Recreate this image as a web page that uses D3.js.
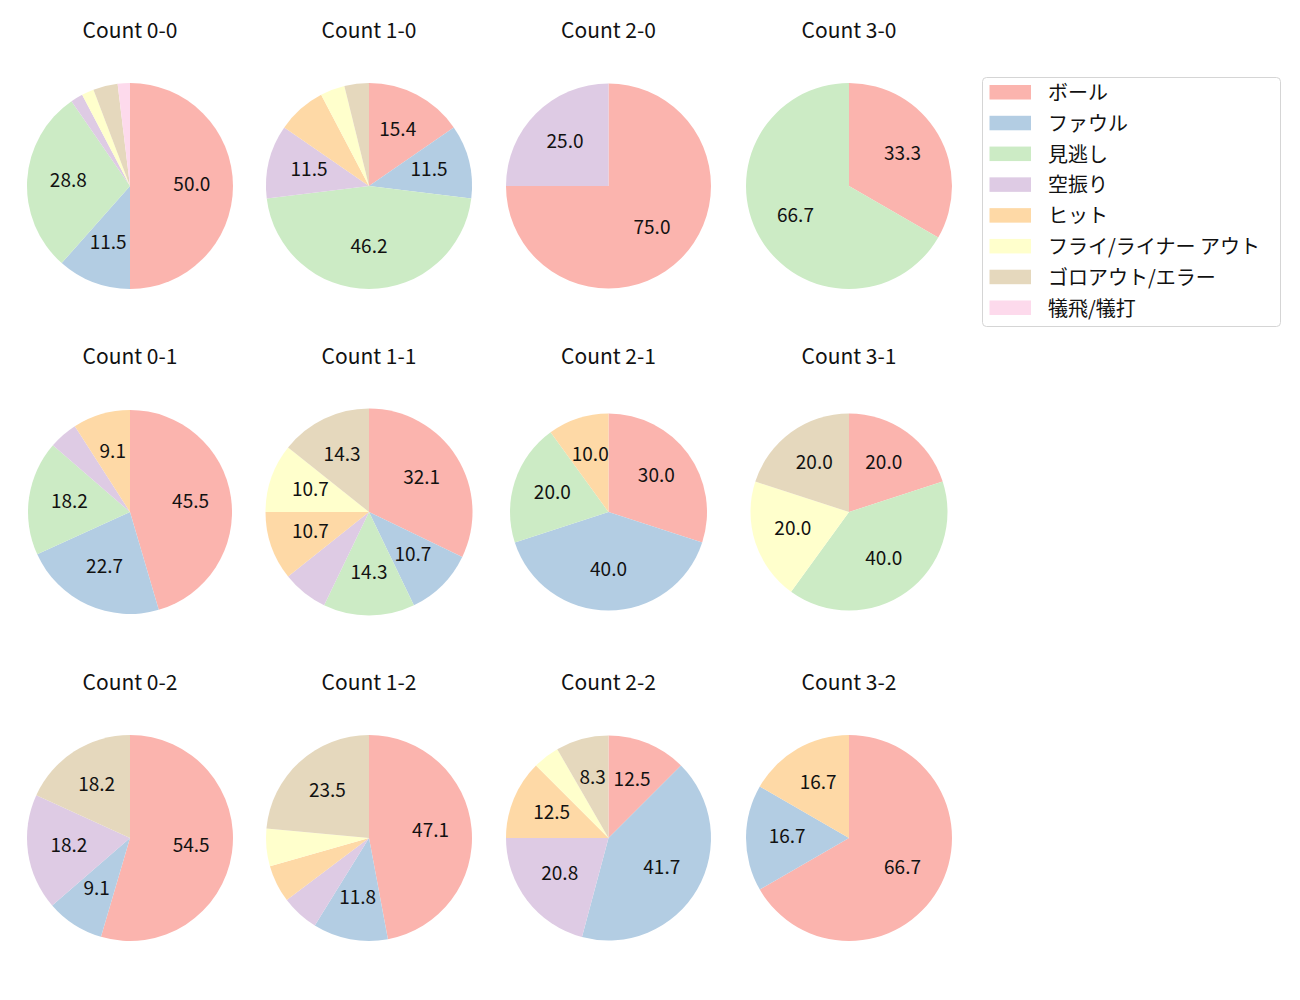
<!DOCTYPE html>
<html>
<head>
<meta charset="utf-8">
<script src="https://cdn.jsdelivr.net/npm/d3@7"></script>
<style>
  html, body { margin: 0; padding: 0; background: #fff; }
  svg { display: block; font-family: "Noto Sans CJK JP", "Noto Sans", sans-serif; }
</style>
</head>
<body>
<svg id="chart" width="1300" height="1000"></svg>
<script>
// ---- data ----
const categories = ["ボール", "ファウル", "見逃し", "空振り", "ヒット", "フライ/ライナー アウト", "ゴロアウト/エラー", "犠飛/犠打"];
const colors = ["#fbb4ae", "#b3cde3", "#ccebc5", "#decbe4", "#fed9a6", "#ffffcc", "#e5d8bd", "#fddaec"];
const titles = ["Count 0-0", "Count 1-0", "Count 2-0", "Count 3-0",
                "Count 0-1", "Count 1-1", "Count 2-1", "Count 3-1",
                "Count 0-2", "Count 1-2", "Count 2-2", "Count 3-2"];
// counts per category (order as categories)
const count00 = [26, 6, 15, 1, 0, 1, 2, 1];
const count10 = [4, 3, 12, 3, 2, 1, 1, 0];
const count20 = [3, 0, 0, 1, 0, 0, 0, 0];
const count30 = [1, 0, 2, 0, 0, 0, 0, 0];
const count01 = [10, 5, 4, 1, 2, 0, 0, 0];
const count11 = [9, 3, 4, 2, 3, 3, 4, 0];
const count21 = [3, 4, 2, 0, 1, 0, 0, 0];
const count31 = [1, 0, 2, 0, 0, 1, 1, 0];
const count02 = [6, 1, 0, 2, 0, 0, 2, 0];
const count12 = [8, 2, 0, 1, 1, 1, 4, 0];
const count22 = [3, 10, 0, 5, 3, 1, 2, 0];
const count32 = [4, 1, 0, 0, 1, 0, 0, 0];
const seriesValues = [count00, count10, count20, count30,
                      count01, count11, count21, count31,
                      count02, count12, count22, count32];

// ---- layout ----
const colX = [130, 369, 608.5, 849];
const rowY = [186, 512, 838];
const titleBase = [37.5, 364, 690];
const radii = [103, 103, 102.5, 103,
               102, 103.5, 98.5, 98.5,
               103, 103, 102.5, 103];
const labelMin = 8; // percent below which no label is drawn

const svg = d3.select("#chart");
const pie = d3.pie().sort(null).value(d => d.v).startAngle(0).endAngle(2 * Math.PI);

seriesValues.forEach((vals, i) => {
  const col = i % 4, row = Math.floor(i / 4);
  const cx = colX[col], cy = rowY[row], r = radii[i];
  const total = d3.sum(vals);
  const data = vals.map((v, k) => ({ v, k }));
  const arcs = pie(data);
  const arc = d3.arc().innerRadius(0).outerRadius(r);
  const labelArc = d3.arc().innerRadius(r * 0.6).outerRadius(r * 0.6);

  const g = svg.append("g").attr("transform", `translate(${cx},${cy})`);
  g.selectAll("path").data(arcs.filter(a => a.data.v > 0)).join("path")
    .attr("d", arc)
    .attr("fill", a => colors[a.data.k]);

  g.selectAll("text.pct").data(arcs.filter(a => a.data.v / total * 100 > labelMin)).join("text")
    .attr("class", "pct")
    .attr("transform", a => {
      const [x, y] = labelArc.centroid(a);
      return `translate(${x},${y + 5})`;
    })
    .attr("text-anchor", "middle")
    .attr("font-size", 19)
    .attr("fill", "#111")
    .text(a => (a.data.v / total * 100).toFixed(1));

  svg.append("text")
    .attr("x", cx).attr("y", titleBase[row])
    .attr("text-anchor", "middle")
    .attr("font-size", 21)
    .attr("fill", "#111")
    .text(titles[i]);
});

// ---- legend ----
const lg = svg.append("g");
lg.append("rect")
  .attr("x", 982.5).attr("y", 77.5).attr("width", 298).attr("height", 249)
  .attr("rx", 4).attr("fill", "#fff").attr("stroke", "#d5d5d5").attr("stroke-width", 1);
const legendY = d3.scaleLinear().domain([0, categories.length - 1]).range([92.5, 308]);
categories.forEach((c, k) => {
  const y = legendY(k);
  lg.append("rect")
    .attr("x", 989.5).attr("y", y - 7.5).attr("width", 41.5).attr("height", 14.5)
    .attr("fill", colors[k]);
  lg.append("text")
    .attr("x", 1048).attr("y", y - 1)
    .attr("dominant-baseline", "central")
    .attr("font-size", 20)
    .attr("fill", "#111")
    .text(c);
});
</script>
</body>
</html>
